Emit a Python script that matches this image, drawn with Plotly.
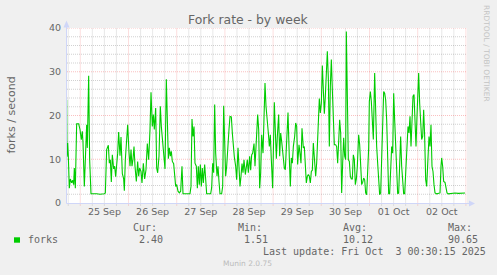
import plotly.graph_objects as go
import pandas as pd

# ---------------- data ----------------
base = pd.Timestamp("2025-09-24 00:00")
# hours elapsed since base
hours = [
    17.21, 17.38, 17.71, 18.04, 18.54, 19.04, 19.70, 20.20, 20.70, 21.03, 21.53, 22.19, 23.19, 23.85,
    24.51, 25.01, 25.34, 26.01, 26.67, 27.17, 27.50, 28.17, 28.66, 29.33, 32.15, 33.81, 35.97, 36.47,
    37.13, 37.96, 38.46, 38.95, 39.45, 39.95, 40.61, 41.11, 41.61, 42.11, 42.61, 43.10, 43.77, 44.27,
    44.93, 45.59, 45.93, 46.42, 47.09, 47.59, 48.25, 48.75, 49.25, 49.74, 50.24, 50.74, 51.24, 51.90,
    52.57, 53.06, 53.56, 54.23, 54.72, 55.39, 56.05, 56.71, 57.38, 58.04, 58.71, 59.21, 59.87, 60.37,
    60.86, 61.53, 62.03, 62.52, 63.19, 63.85, 64.35, 64.85, 65.51, 66.18, 66.84, 67.34, 67.84, 68.33,
    68.83, 69.33, 69.83, 70.49, 70.99, 71.49, 71.99, 72.65, 73.31, 73.98, 74.64, 75.14, 78.62, 79.12,
    79.62, 80.12, 80.62, 81.11, 81.78, 82.28, 82.77, 83.27, 83.77, 84.27, 84.77, 85.26, 85.93, 86.43,
    86.92, 88.91, 89.41, 89.91, 90.41, 90.91, 91.41, 92.07, 92.57, 93.06, 93.56, 94.39, 94.89, 95.39,
    95.89, 96.38, 96.88, 97.38, 98.04, 98.54, 99.21, 99.70, 100.20, 100.70, 101.37, 101.86, 102.53,
    103.02, 103.52, 104.02, 104.52, 105.02, 105.51, 106.18, 106.67, 107.17, 107.67, 108.33, 108.83,
    109.33, 109.83, 110.49, 110.99, 111.82, 112.32, 112.82, 113.31, 113.81, 114.31, 114.98, 115.47,
    115.97, 116.47, 116.97, 117.63, 118.13, 118.62, 119.12, 119.78, 120.61, 121.11, 121.61, 122.11,
    122.77, 123.27, 123.77, 124.27, 124.93, 125.59, 126.09, 126.76, 127.42, 128.08, 128.58, 129.08,
    129.58, 130.08, 130.74, 131.24, 131.74, 132.23, 132.90, 133.39, 133.89, 134.39, 135.05, 135.55,
    136.05, 136.55, 137.05, 137.54, 138.04, 138.54, 139.04, 139.54, 140.03, 140.70, 141.20, 141.69,
    142.19, 142.69, 143.02, 143.52, 144.02, 144.52, 145.01, 145.51, 146.01, 146.51, 147.01, 147.50,
    148.00, 148.50, 149.00, 149.50, 149.99, 150.49, 151.16, 151.65, 152.15, 152.65, 153.15, 153.65,
    154.14, 154.64, 155.14, 155.64, 156.13, 156.47, 156.96, 157.46, 157.96, 158.46, 158.96, 159.45,
    159.95, 160.45, 160.95, 161.45, 161.94, 162.61, 163.11, 163.60, 164.10, 164.60, 165.10, 165.60,
    166.09, 166.59, 167.09, 167.59, 167.92, 168.42, 168.92, 169.41, 169.91, 170.57, 171.07, 171.57,
    172.07, 172.57, 173.06, 173.56, 174.06, 174.56, 175.06, 175.55, 176.05, 176.55, 177.05, 177.55,
    178.04, 178.54, 179.04, 179.54, 180.04, 180.53, 181.03, 181.53, 182.03, 182.53, 183.02, 183.52,
    184.02, 184.52, 185.01, 185.51, 186.01, 186.51, 187.17, 187.67, 188.17, 188.67, 189.16, 189.66,
    190.16, 190.66, 191.16, 191.65, 192.15, 192.48, 192.98, 193.48, 193.98, 194.48, 194.97, 195.47,
    195.97, 196.47, 197.13, 197.63, 198.13, 198.62, 199.12, 199.62, 200.12, 200.62, 201.45, 203.11,
    203.60, 203.94, 204.43, 204.93, 205.60, 206.09, 206.59, 207.26, 208.92, 210.58, 212.24, 213.90,
    215.56,
]
forks = [
    23.6, 10.6, 13.7, 10.7, 3.4, 5.5, 4.6, 5.2, 4.2, 8.0, 3.4, 18.1, 18.1, 16.8,
    14.5, 16.4, 13.9, 3.8, 15.2, 17.9, 12.6, 29.1, 9.9, 2.1, 2.1, 2.0, 2.1, 2.3,
    12.2, 13.2, 9.1, 9.9, 4.8, 11.0, 7.8, 8.4, 6.0, 8.0, 11.4, 16.2, 10.8, 15.1,
    6.7, 5.5, 2.8, 9.9, 14.5, 17.9, 11.6, 8.4, 12.2, 8.4, 10.0, 12.9, 8.4, 4.9,
    9.5, 6.1, 8.0, 7.2, 4.6, 9.1, 5.5, 7.6, 13.6, 9.9, 16.8, 25.3, 17.5, 20.2,
    16.8, 21.7, 8.0, 6.9, 10.7, 22.1, 17.5, 14.9, 9.9, 7.8, 28.3, 19.0, 10.1, 12.6,
    10.7, 11.8, 9.5, 9.0, 6.9, 3.8, 4.2, 2.7, 2.3, 2.7, 8.4, 2.1, 2.1, 3.8,
    19.2, 15.2, 17.5, 9.1, 8.4, 3.4, 8.4, 4.2, 8.8, 3.8, 8.0, 4.6, 8.8, 6.1,
    2.1, 2.1, 3.5, 9.1, 6.9, 22.5, 11.4, 6.1, 8.4, 4.9, 2.1, 2.1, 3.8, 22.2,
    13.3, 6.1, 8.4, 12.9, 16.8, 19.8, 19.7, 16.0, 12.9, 10.5, 8.4, 5.3, 12.6,
    8.4, 3.8, 6.1, 9.0, 6.9, 9.9, 6.5, 8.4, 9.9, 6.9, 10.7, 7.5,
    11.0, 11.4, 13.6, 8.4, 17.9, 20.2, 16.8, 3.4, 6.9, 15.6, 11.4, 17.5,
    27.4, 22.1, 18.3, 16.0, 12.9, 15.6, 9.9, 3.4, 23.0, 14.5, 10.1, 15.2,
    20.2, 10.7, 16.0, 14.1, 9.9, 8.0, 7.6, 14.5, 20.7, 10.3, 3.8, 10.3,
    9.1, 12.9, 15.2, 18.3, 17.5, 8.8, 13.3, 11.4, 9.1, 17.1, 12.6, 12.9,
    8.4, 4.6, 6.1, 6.5, 6.1, 4.6, 7.2, 7.5, 13.7, 9.9, 6.1, 9.1,
    13.7, 19.8, 23.9, 20.6, 22.8, 31.4, 26.7, 20.4, 24.4, 28.2, 34.7, 28.6,
    12.9, 26.7, 32.8, 25.9, 19.0, 13.3, 13.3, 12.9, 9.1, 16.0, 19.0, 16.0,
    2.3, 9.1, 14.9, 10.7, 9.9, 39.2, 18.3, 9.9, 9.5, 6.1, 5.5, 5.5,
    11.0, 9.9, 4.2, 5.5, 8.4, 15.6, 13.3, 9.1, 4.2, 4.7, 5.7, 5.3,
    2.3, 1.9, 6.1, 12.6, 23.2, 25.5, 23.2, 18.3, 14.5, 29.7, 19.8, 12.9,
    9.1, 4.6, 1.9, 2.3, 9.9, 19.0, 25.5, 25.1, 23.6, 19.0, 6.9, 2.1,
    2.1, 9.1, 12.9, 11.4, 25.1, 19.0, 13.7, 6.1, 2.1, 2.3, 8.4, 15.2,
    8.4, 3.8, 2.1, 2.1, 7.6, 11.4, 17.5, 16.0, 19.8, 12.9, 20.9, 24.4,
    24.8, 16.8, 12.9, 19.8, 25.1, 29.7, 22.8, 16.8, 14.5, 15.2, 21.3, 15.2,
    5.3, 3.8, 9.9, 15.2, 12.9, 17.9, 8.4, 7.2, 4.2, 2.3, 2.1, 2.3,
    8.4, 10.3, 8.4, 4.9, 4.7, 3.8, 2.3, 2.1, 2.2, 2.3, 2.2, 2.3,
    2.3,
]
day_labels = ["25 Sep", "26 Sep", "27 Sep", "28 Sep", "29 Sep", "30 Sep", "01 Oct", "02 Oct"]
y_ticks = [0, 10, 20, 30, 40]
series_name = "forks"
stat_labels = ["Cur:", "Min:", "Avg:", "Max:"]
stat_values = ["2.40", "1.51", "10.12", "90.65"]
title_text = "Fork rate - by week"
y_title = "forks / second"
last_update = "Last update: Fri Oct\u00a0\u00a03 00:30:15 2025"
watermark = "RRDTOOL / TOBI OETIKER"
version_text = "Munin 2.0.75"

# ---------------- styles ----------------
W, H = 497, 275
L, R, T, B = 67, 30, 28, 72
PW, PH = W - L - R, H - T - B
LINE_COLOR = "#00CC00"
FONT_COLOR = "#666666"
AXIS_COLOR = "#CFD6F8"
MAJOR_GRID = "rgba(240,60,60,0.32)"
MINOR_GRID = "rgba(102,102,102,0.30)"
MONO = "DejaVu Sans Mono"
SANS = "DejaVu Sans"

def px(xp):
    return (xp - L) / PW

def py(yp):
    return (T + PH - yp) / PH

x_vals = [base + pd.Timedelta(hours=h) for h in hours]
x_start = base + pd.Timedelta(hours=17.38)
x_end = base + pd.Timedelta(hours=216.55)
tick_times = [base + pd.Timedelta(hours=36 + 24 * i) for i in range(len(day_labels))]

fig = go.Figure()
fig.add_trace(go.Scatter(
    x=x_vals, y=forks, mode="lines", name=series_name,
    line=dict(color=LINE_COLOR, width=1.1), hoverinfo="skip", showlegend=False,
))

shapes = []
# vertical grid (6-hour minor, daily major)
h = 18
while h <= 216.5:
    t = base + pd.Timedelta(hours=h)
    major = (h % 24 == 0)
    shapes.append(dict(type="line", xref="x", yref="paper", x0=t, x1=t,
                       y0=-2.5 / PH, y1=1, layer="below",
                       line=dict(color=MAJOR_GRID if major else MINOR_GRID, width=1, dash="1px,1px")))
    h += 6
# horizontal grid
for v in range(2, 41, 2):
    major = (v % 10 == 0)
    shapes.append(dict(type="line", xref="paper", yref="y", x0=0, x1=1, y0=v, y1=v,
                       layer="below",
                       line=dict(color=MAJOR_GRID if major else MINOR_GRID, width=1, dash="1px,1px")))
# axes with arrows
shapes.append(dict(type="line", xref="paper", yref="paper", x0=px(66.5), x1=px(66.5),
                   y0=py(203.5), y1=py(23), line=dict(color=AXIS_COLOR, width=1), layer="above"))
shapes.append(dict(type="path", xref="paper", yref="paper",
                   path=f"M {px(63.5)} {py(27.5)} L {px(69.5)} {py(27.5)} L {px(66.5)} {py(20.5)} Z",
                   fillcolor=AXIS_COLOR, line=dict(color=AXIS_COLOR, width=0), layer="above"))
shapes.append(dict(type="line", xref="paper", yref="paper", x0=px(66.5), x1=px(470),
                   y0=py(203.5), y1=py(203.5), line=dict(color=AXIS_COLOR, width=1), layer="above"))
shapes.append(dict(type="path", xref="paper", yref="paper",
                   path=f"M {px(469)} {py(200.5)} L {px(469)} {py(206.5)} L {px(475)} {py(203.5)} Z",
                   fillcolor=AXIS_COLOR, line=dict(color=AXIS_COLOR, width=0), layer="above"))
# legend colour box
shapes.append(dict(type="rect", xref="paper", yref="paper", x0=px(14), x1=px(20),
                   y0=py(242.7), y1=py(237.3), fillcolor=LINE_COLOR, line=dict(width=0)))

annotations = []
def ann(text, xp, yp, size, color=FONT_COLOR, family=SANS, xanchor="left", angle=0):
    annotations.append(dict(text=text, x=px(xp), y=py(yp), xref="paper", yref="paper",
                            xanchor=xanchor, yanchor="middle", showarrow=False, borderpad=0,
                            textangle=angle, font=dict(family=family, size=size, color=color)))

ann(title_text, 248, 19.5, 12.4, xanchor="center")
ann(y_title, 10.5, 115, 11, xanchor="center", angle=-90)
ann(watermark, 487, 53, 7.5, color="#C4C4C4", xanchor="center", angle=90)
ann(series_name, 26.5, 239.5, 10, family=MONO)
stat_label_x = [131.5, 236.5, 342.0, 446.5]
stat_value_x = [137.5, 242.5, 342.0, 446.5]
for lbl, val, lx, vx in zip(stat_labels, stat_values, stat_label_x, stat_value_x):
    ann(lbl, lx, 227.8, 10, family=MONO)
    ann(val, vx, 239.5, 10, family=MONO)
ann(last_update, 261.5, 251.8, 10, family=MONO)
ann(version_text, 247.5, 263.5, 7.5, color="#BBBBBB", xanchor="center")

fig.update_layout(
    width=W, height=H,
    margin=dict(l=L, r=R, t=T, b=B, pad=0),
    paper_bgcolor="#F0F0F0", plot_bgcolor="#FFFFFF",
    font=dict(family=SANS, color=FONT_COLOR),
    shapes=shapes, annotations=annotations,
    showlegend=False,
    xaxis=dict(type="date", range=[x_start, x_end], showgrid=False, zeroline=False,
               showline=False, ticks="", tickmode="array", tickvals=tick_times,
               ticktext=day_labels, tickfont=dict(family=SANS, size=9.5, color=FONT_COLOR),
               ticklabelstandoff=1, fixedrange=True),
    yaxis=dict(range=[0, 40], showgrid=False, zeroline=False, showline=False, ticks="",
               tickmode="array", tickvals=y_ticks, ticktext=[str(v) for v in y_ticks],
               tickfont=dict(family=SANS, size=9.5, color=FONT_COLOR), ticklabelstandoff=5,
               fixedrange=True),
)

fig.write_html("out.html")
